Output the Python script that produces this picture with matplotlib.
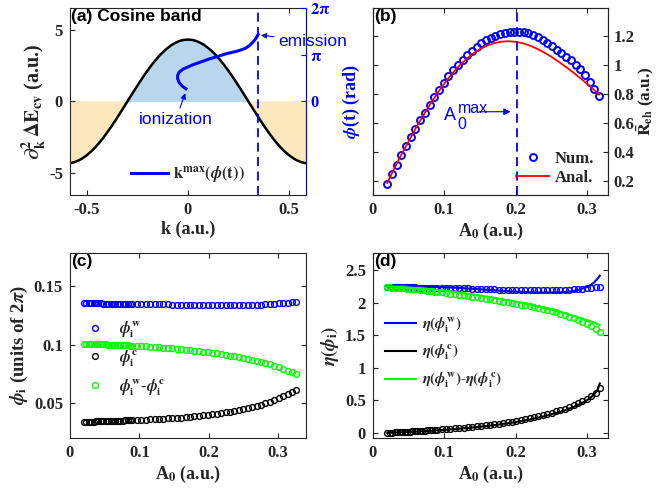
import matplotlib
matplotlib.use('Agg')
import matplotlib.pyplot as plt
import numpy as np

# ---------------- data ----------------
# (a) band curvature vs k
k_band = [-0.60, -0.58, -0.56, -0.54, -0.52, -0.50, -0.48, -0.46, -0.44, -0.42,
          -0.40, -0.38, -0.36, -0.34, -0.32, -0.30, -0.28, -0.26, -0.24, -0.22,
          -0.20, -0.18, -0.16, -0.14, -0.12, -0.10, -0.08, -0.06, -0.04, -0.02,
          0.00, 0.02, 0.04, 0.06, 0.08, 0.10, 0.12, 0.14, 0.16, 0.18,
          0.20, 0.22, 0.24, 0.26, 0.28, 0.30, 0.32, 0.34, 0.36, 0.38,
          0.40, 0.42, 0.44, 0.46, 0.48, 0.50, 0.52, 0.54, 0.56, 0.58, 0.60]
band = [-4.30, -4.28, -4.21, -4.09, -3.93, -3.72, -3.48, -3.20, -2.88, -2.53,
        -2.15, -1.75, -1.33, -0.89, -0.45, 0.00, 0.45, 0.89, 1.33, 1.75,
        2.15, 2.53, 2.88, 3.20, 3.48, 3.72, 3.93, 4.09, 4.21, 4.28,
        4.30, 4.28, 4.21, 4.09, 3.93, 3.72, 3.48, 3.20, 2.88, 2.53,
        2.15, 1.75, 1.33, 0.89, 0.45, 0.00, -0.45, -0.89, -1.33, -1.75,
        -2.15, -2.53, -2.88, -3.20, -3.48, -3.72, -3.93, -4.09, -4.21, -4.28, -4.30]
# (a) k^max(phi(t)) trajectory (x: k, y: phase in rad)
kmax_k = [-0.010, -0.028, -0.043, -0.051, -0.051, -0.043, -0.023, 0.026, 0.076, 0.109,
          0.150, 0.191, 0.233, 0.257, 0.285, 0.307, 0.323, 0.337, 0.348]
kmax_phi = [0.85, 1.03, 1.26, 1.53, 1.75, 1.97, 2.18, 2.47, 2.71, 2.87,
            3.03, 3.21, 3.34, 3.43, 3.57, 3.77, 3.99, 4.22, 4.49]
k_emit = 0.35
a_xticks = [-0.5, 0, 0.5]
a_xticklabels = ['-0.5', '0', '0.5']
a_yticks = [-5, 0, 5]
a_yticklabels = ['-5', '0', '5']
a_rticks = [0, np.pi, 2 * np.pi]
a_rticklabels = ['0', r'$\mathbf{\pi}$', r'$\mathbf{2\pi}$']

# (b) Num. / Anal.
A0_b = [0.0200, 0.0266, 0.0332, 0.0398, 0.0464, 0.0530, 0.0596, 0.0662, 0.0728, 0.0794,
        0.0860, 0.0926, 0.0992, 0.1058, 0.1124, 0.1190, 0.1256, 0.1322, 0.1388, 0.1454,
        0.1520, 0.1586, 0.1652, 0.1718, 0.1784, 0.1850, 0.1916, 0.1982, 0.2048, 0.2114,
        0.2180, 0.2246, 0.2312, 0.2378, 0.2444, 0.2510, 0.2576, 0.2642, 0.2708, 0.2774,
        0.2840, 0.2906, 0.2972, 0.3038, 0.3104, 0.3170]
num_b = [0.180, 0.250, 0.316, 0.383, 0.444, 0.504, 0.561, 0.620, 0.672, 0.726,
         0.776, 0.827, 0.874, 0.920, 0.962, 1.000, 1.034, 1.066, 1.096, 1.122,
         1.146, 1.166, 1.183, 1.197, 1.208, 1.216, 1.222, 1.225, 1.225, 1.221,
         1.214, 1.203, 1.189, 1.170, 1.149, 1.127, 1.104, 1.080, 1.055, 1.029,
         1.001, 0.968, 0.928, 0.882, 0.833, 0.787]
A0_b_line = [0.02, 0.03, 0.04, 0.05, 0.06, 0.07, 0.08, 0.09, 0.10, 0.11,
             0.12, 0.13, 0.14, 0.15, 0.16, 0.17, 0.18, 0.19, 0.20, 0.21,
             0.22, 0.23, 0.24, 0.25, 0.26, 0.27, 0.28, 0.29, 0.30, 0.31, 0.317]
anal_b = [0.190, 0.290, 0.385, 0.475, 0.565, 0.648, 0.728, 0.802, 0.871, 0.933,
          0.988, 1.035, 1.075, 1.107, 1.131, 1.148, 1.158, 1.161, 1.157, 1.147,
          1.131, 1.110, 1.084, 1.055, 1.022, 0.987, 0.950, 0.911, 0.871, 0.828, 0.795]
A0_max = 0.202
b_yticks = [0.2, 0.4, 0.6, 0.8, 1.0, 1.2]
b_yticklabels = ['0.2', '0.4', '0.6', '0.8', '1', '1.2']
x_ticks = [0, 0.1, 0.2, 0.3]
x_ticklabels = ['0', '0.1', '0.2', '0.3']

# (c) phases (units of 2pi)
A0_c = [0.0200, 0.0235, 0.0270, 0.0305, 0.0340, 0.0375, 0.0410, 0.0445, 0.0480, 0.0515,
        0.0550, 0.0585, 0.0620, 0.0655, 0.0690, 0.0725, 0.0760, 0.0795, 0.0830, 0.0865,
        0.0900, 0.0964, 0.1028, 0.1092, 0.1156, 0.1220, 0.1283, 0.1347, 0.1411, 0.1475,
        0.1539, 0.1603, 0.1667, 0.1731, 0.1795, 0.1859, 0.1922, 0.1986, 0.2050, 0.2114,
        0.2178, 0.2242, 0.2306, 0.2370, 0.2434, 0.2498, 0.2561, 0.2625, 0.2689, 0.2753,
        0.2817, 0.2881, 0.2945, 0.3009, 0.3073, 0.3137, 0.3200, 0.3264]
phi_w = [0.1350, 0.1350, 0.1350, 0.1350, 0.1350, 0.1350, 0.1350, 0.1350, 0.1349, 0.1349,
         0.1349, 0.1349, 0.1349, 0.1349, 0.1349, 0.1348, 0.1348, 0.1348, 0.1348, 0.1347,
         0.1347, 0.1346, 0.1346, 0.1345, 0.1344, 0.1344, 0.1343, 0.1342, 0.1342, 0.1341,
         0.1340, 0.1340, 0.1339, 0.1338, 0.1338, 0.1337, 0.1337, 0.1336, 0.1336, 0.1336,
         0.1335, 0.1335, 0.1335, 0.1335, 0.1336, 0.1336, 0.1337, 0.1338, 0.1339, 0.1341,
         0.1343, 0.1345, 0.1348, 0.1351, 0.1354, 0.1357, 0.1360, 0.1364]
phi_c = [0.0343, 0.0343, 0.0344, 0.0344, 0.0345, 0.0346, 0.0346, 0.0347, 0.0348, 0.0348,
         0.0349, 0.0350, 0.0350, 0.0351, 0.0352, 0.0352, 0.0353, 0.0354, 0.0354, 0.0355,
         0.0356, 0.0358, 0.0360, 0.0361, 0.0363, 0.0365, 0.0367, 0.0369, 0.0371, 0.0373,
         0.0376, 0.0379, 0.0382, 0.0385, 0.0389, 0.0393, 0.0397, 0.0401, 0.0406, 0.0411,
         0.0416, 0.0422, 0.0428, 0.0435, 0.0442, 0.0450, 0.0458, 0.0467, 0.0477, 0.0488,
         0.0500, 0.0513, 0.0527, 0.0543, 0.0560, 0.0578, 0.0596, 0.0614]
phi_wc = [0.1007, 0.1007, 0.1006, 0.1006, 0.1005, 0.1004, 0.1004, 0.1003, 0.1001, 0.1001,
          0.1000, 0.0999, 0.0999, 0.0998, 0.0997, 0.0996, 0.0995, 0.0994, 0.0994, 0.0992,
          0.0991, 0.0988, 0.0986, 0.0984, 0.0981, 0.0979, 0.0976, 0.0973, 0.0971, 0.0968,
          0.0964, 0.0961, 0.0957, 0.0953, 0.0949, 0.0944, 0.0940, 0.0935, 0.0930, 0.0925,
          0.0919, 0.0913, 0.0907, 0.0900, 0.0894, 0.0886, 0.0879, 0.0871, 0.0862, 0.0853,
          0.0843, 0.0832, 0.0821, 0.0808, 0.0794, 0.0779, 0.0764, 0.0750]
c_yticks = [0.05, 0.1, 0.15]
c_yticklabels = ['0.05', '0.1', '0.15']

# (d) eta values
A0_d = [0.0200, 0.0235, 0.0270, 0.0305, 0.0340, 0.0375, 0.0410, 0.0445, 0.0480, 0.0515,
        0.0550, 0.0585, 0.0620, 0.0655, 0.0690, 0.0725, 0.0760, 0.0795, 0.0830, 0.0865,
        0.0900, 0.0962, 0.1023, 0.1085, 0.1147, 0.1209, 0.1270, 0.1332, 0.1394, 0.1455,
        0.1517, 0.1579, 0.1640, 0.1702, 0.1764, 0.1826, 0.1887, 0.1949, 0.2011, 0.2072,
        0.2134, 0.2196, 0.2257, 0.2319, 0.2381, 0.2443, 0.2504, 0.2566, 0.2628, 0.2689,
        0.2751, 0.2813, 0.2874, 0.2936, 0.2998, 0.3060, 0.3121, 0.3183]
eta_w = [2.240, 2.240, 2.240, 2.239, 2.239, 2.239, 2.239, 2.238, 2.238, 2.238,
         2.238, 2.238, 2.237, 2.237, 2.237, 2.237, 2.237, 2.236, 2.236, 2.236,
         2.236, 2.235, 2.234, 2.233, 2.231, 2.229, 2.227, 2.225, 2.222, 2.219,
         2.216, 2.213, 2.210, 2.208, 2.205, 2.203, 2.201, 2.199, 2.198, 2.197,
         2.196, 2.195, 2.195, 2.195, 2.195, 2.196, 2.197, 2.198, 2.200, 2.203,
         2.207, 2.211, 2.216, 2.222, 2.228, 2.235, 2.242, 2.250]
eta_c = [0.000, 0.002, 0.004, 0.006, 0.008, 0.010, 0.012, 0.014, 0.016, 0.018,
         0.020, 0.022, 0.025, 0.028, 0.031, 0.034, 0.037, 0.040, 0.043, 0.046,
         0.049, 0.052, 0.057, 0.062, 0.067, 0.073, 0.079, 0.085, 0.092, 0.099,
         0.106, 0.114, 0.122, 0.131, 0.140, 0.150, 0.161, 0.172, 0.184, 0.197,
         0.210, 0.224, 0.239, 0.255, 0.272, 0.290, 0.309, 0.329, 0.350, 0.373,
         0.398, 0.425, 0.455, 0.488, 0.524, 0.563, 0.615, 0.690]
eta_wc = [2.240, 2.238, 2.236, 2.234, 2.232, 2.229, 2.227, 2.224, 2.221, 2.218,
          2.215, 2.212, 2.208, 2.204, 2.200, 2.196, 2.191, 2.186, 2.181, 2.176,
          2.170, 2.161, 2.152, 2.143, 2.134, 2.125, 2.116, 2.106, 2.096, 2.086,
          2.076, 2.066, 2.055, 2.044, 2.033, 2.022, 2.011, 1.999, 1.987, 1.975,
          1.962, 1.949, 1.936, 1.922, 1.908, 1.890, 1.872, 1.853, 1.832, 1.810,
          1.787, 1.762, 1.735, 1.706, 1.675, 1.641, 1.603, 1.560]
A0_d_line = [0.02, 0.04, 0.06, 0.08, 0.10, 0.12, 0.14, 0.16, 0.18, 0.20,
             0.22, 0.24, 0.26, 0.27, 0.28, 0.29, 0.30, 0.305, 0.31, 0.315, 0.318]
eta_w_line = [2.255, 2.255, 2.254, 2.250, 2.243, 2.232, 2.218, 2.203, 2.188, 2.175,
              2.165, 2.160, 2.162, 2.168, 2.180, 2.205, 2.245, 2.275, 2.315, 2.375, 2.420]
eta_c_line = [0.000, 0.008, 0.018, 0.030, 0.045, 0.062, 0.082, 0.105, 0.132, 0.165,
              0.205, 0.255, 0.315, 0.350, 0.392, 0.440, 0.500, 0.540, 0.590, 0.660, 0.760]
eta_wc_line = [2.255, 2.245, 2.232, 2.212, 2.188, 2.160, 2.130, 2.097, 2.060, 2.020,
               1.975, 1.925, 1.868, 1.838, 1.805, 1.772, 1.738, 1.720, 1.700, 1.675, 1.660]
d_yticks = [0, 0.5, 1, 1.5, 2, 2.5]
d_yticklabels = ['0', '0.5', '1', '1.5', '2', '2.5']

# ---------------- style ----------------
AXC = '#262626'
plt.rcParams.update({
    'font.family': ['Liberation Serif', 'DejaVu Serif'],
    'font.weight': 'bold',
    'mathtext.fontset': 'stix',
    'axes.linewidth': 0.8,
    'axes.edgecolor': AXC,
    'xtick.color': AXC,
    'ytick.color': AXC,
    'axes.labelcolor': AXC,
    'text.color': AXC,
    'xtick.direction': 'in',
    'ytick.direction': 'in',
    'xtick.labelsize': 12,
    'ytick.labelsize': 12,
    'axes.labelsize': 13,
    'axes.labelweight': 'bold',
})
SANS = ['Liberation Sans', 'DejaVu Sans']
TL = 3.5

fig = plt.figure(figsize=(6.57, 4.96), dpi=100)

def panel_label(ax, s):
    ax.text(0.005, 0.995, s, transform=ax.transAxes, ha='left', va='top',
            fontsize=12.5, fontweight='bold', family=SANS, color='black', zorder=10)

# ---------------- (a) ----------------
axA = fig.add_axes([0.1065, 0.607, 0.359, 0.377])
bpos = [b >= 0 for b in band]
bneg = [b <= 0 for b in band]
axA.fill_between(k_band, band, 0, where=bpos, interpolate=True,
                 color=(0.72, 0.845, 0.93), lw=0)
axA.fill_between(k_band, band, 0, where=bneg, interpolate=True,
                 color=(0.979, 0.908, 0.7375), lw=0)
axA.plot(k_band, band, color='black', lw=1.8)
axA.set_xlim(-0.585, 0.585)
axA.set_ylim(-6.5, 6.5)
axA.set_xticks(a_xticks)
axA.set_xticklabels(a_xticklabels)
axA.set_yticks(a_yticks)
axA.set_yticklabels(a_yticklabels)
axA.tick_params(length=TL, top=True, right=False, pad=5)
axA.set_xlabel('k (a.u.)', labelpad=2)
axA.set_ylabel(r'$\mathbf{\partial^2_k\,\Delta E_{cv}}$ (a.u.)', fontsize=14.5, labelpad=1)

axA2 = axA.twinx()
axA2.set_ylim(-2 * np.pi, 2 * np.pi)
axA2.set_yticks(a_rticks)
axA2.set_yticklabels(a_rticklabels)
axA2.tick_params(axis='y', colors='blue', length=TL, pad=3)
for s in ['left', 'top', 'bottom']:
    axA2.spines[s].set_visible(False)
axA2.spines['right'].set_color('blue')
lk, = axA2.plot(kmax_k, kmax_phi, color='blue', lw=2.2,
                label=r'$\mathbf{k^{max}(}\phi\mathbf{(t))}$')
axA2.axvline(k_emit, color='blue', ls=(0, (5, 3)), lw=1.3)
axA2.annotate('emission', xy=(0.362, 4.45), xytext=(0.448, 4.05),
              family=SANS, fontweight='normal', fontsize=12.5, color='blue',
              ha='left', va='center', annotation_clip=False,
              arrowprops=dict(arrowstyle='-|>', color='blue', lw=0.8,
                              mutation_scale=8, shrinkA=1, shrinkB=0))
axA2.annotate('ionization', xy=(-0.013, 0.55), xytext=(-0.06, -1.22),
              family=SANS, fontweight='normal', fontsize=12.5, color='blue',
              ha='center', va='center',
              arrowprops=dict(arrowstyle='-|>', color='blue', lw=0.8,
                              mutation_scale=8, shrinkA=1, shrinkB=0))
axA2.legend(handles=[lk], loc='center', bbox_to_anchor=(0.5, 0.11), frameon=False,
            fontsize=12, handlelength=2.2, handletextpad=0.3, borderpad=0.2)
panel_label(axA, '(a) Cosine band')

# ---------------- (b) ----------------
axB = fig.add_axes([0.5677, 0.607, 0.3582, 0.377])
hn, = axB.plot(A0_b, num_b, 'o', mfc='none', mec='blue', ms=5.0, mew=1.4, label='Num.')
ha_, = axB.plot(A0_b_line, anal_b, '-', color='red', lw=1.3, label='Anal.')
axB.axvline(A0_max, color='blue', ls=(0, (5, 3)), lw=1.3)
axB.set_xlim(0, 0.33)
axB.set_ylim(0.108, 1.389)
axB.set_xticks(x_ticks)
axB.set_xticklabels(x_ticklabels)
axB.set_yticks(b_yticks)
axB.tick_params(length=TL, top=True, right=False, labelleft=False, pad=5)
axB.set_xlabel(r'A$_\mathbf{0}$ (a.u.)', labelpad=2)
axB.set_ylabel(r'$\phi$(t) (rad)', color='blue', labelpad=8)
axB2 = axB.twinx()
axB2.set_ylim(0.108, 1.389)
axB2.set_yticks(b_yticks)
axB2.set_yticklabels(b_yticklabels)
axB2.tick_params(length=TL, pad=4)
axB2.set_ylabel(r'$\bar{\mathbf{R}}_{\mathbf{eh}}$ (a.u.)', fontsize=12.5, labelpad=0)
axB.annotate('', xy=(0.193, 0.678), xytext=(0.149, 0.678),
             arrowprops=dict(arrowstyle='-|>', color='blue', lw=0.8,
                             mutation_scale=10, shrinkA=0, shrinkB=0))
axB.text(0.0990, 0.62, 'A', family=SANS, fontweight='normal', fontsize=13,
         color='blue', ha='left', va='baseline')
axB.text(0.1190, 0.560, '0', family=SANS, fontweight='normal', fontsize=11.5,
         color='blue', ha='left', va='baseline')
axB.text(0.1195, 0.668, 'max', family=SANS, fontweight='normal', fontsize=11.5,
         color='blue', ha='left', va='baseline')
axB.legend(handles=[hn, ha_], loc='lower right', bbox_to_anchor=(0.995, -0.025),
           frameon=False, fontsize=12, handlelength=2.0, handletextpad=0.3,
           labelspacing=0.2, borderpad=0.3)
panel_label(axB, '(b)')

# ---------------- (c) ----------------
axC = fig.add_axes([0.1065, 0.117, 0.359, 0.373])
h1, = axC.plot(A0_c, phi_w, 'o', mfc='none', mec='blue', ms=4.2, mew=1.0,
               label=r'$\phi_{\mathbf{i}}^{\mathbf{w}}$')
h2, = axC.plot(A0_c, phi_c, 'o', mfc='none', mec='black', ms=4.2, mew=1.0,
               label=r'$\phi_{\mathbf{i}}^{\mathbf{c}}$')
h3, = axC.plot(A0_c, phi_wc, 'o', mfc='none', mec=(0, 1, 0), ms=4.2, mew=1.0,
               label=r'$\phi_{\mathbf{i}}^{\mathbf{w}}$-$\phi_{\mathbf{i}}^{\mathbf{c}}$')
axC.set_xlim(0, 0.34)
axC.set_ylim(0.0205, 0.178)
axC.set_xticks(x_ticks)
axC.set_xticklabels(x_ticklabels)
axC.set_yticks(c_yticks)
axC.set_yticklabels(c_yticklabels)
axC.tick_params(length=TL, top=True, right=True, pad=5)
axC.set_xlabel(r'A$_\mathbf{0}$ (a.u.)', labelpad=2)
axC.set_ylabel(r'$\phi_{\mathbf{i}}$ (units of 2$\pi$)', fontsize=13.5, labelpad=3)
axC.legend(handles=[h1, h2, h3], loc='center left', bbox_to_anchor=(0.0, 0.43),
           frameon=False, fontsize=11.5, handlelength=1.5, handletextpad=0.8,
           labelspacing=0.5, borderpad=0.3)
panel_label(axC, '(c)')

# ---------------- (d) ----------------
axD = fig.add_axes([0.5677, 0.117, 0.3582, 0.373])
axD.plot(A0_d, eta_w, 'o', mfc='none', mec='blue', ms=4.2, mew=1.0)
axD.plot(A0_d, eta_c, 'o', mfc='none', mec='black', ms=4.2, mew=1.0)
axD.plot(A0_d, eta_wc, 'o', mfc='none', mec=(0, 1, 0), ms=4.2, mew=1.0)
l1, = axD.plot(A0_d_line, eta_w_line, '-', color='blue', lw=1.5,
               label=r'$\eta(\phi_{\mathbf{i}}^{\mathbf{w}})$')
l2, = axD.plot(A0_d_line, eta_c_line, '-', color='black', lw=1.5,
               label=r'$\eta(\phi_{\mathbf{i}}^{\mathbf{c}})$')
l3, = axD.plot(A0_d_line, eta_wc_line, '-', color=(0, 1, 0), lw=1.5,
               label=r'$\eta(\phi_{\mathbf{i}}^{\mathbf{w}})$-$\eta(\phi_{\mathbf{i}}^{\mathbf{c}})$')
axD.set_xlim(0, 0.33)
axD.set_ylim(-0.08, 2.77)
axD.set_xticks(x_ticks)
axD.set_xticklabels(x_ticklabels)
axD.set_yticks(d_yticks)
axD.set_yticklabels(d_yticklabels)
axD.tick_params(length=TL, top=True, right=True, pad=5)
axD.set_xlabel(r'A$_\mathbf{0}$ (a.u.)', labelpad=2)
axD.set_ylabel(r'$\eta(\phi_{\mathbf{i}})$', fontsize=13.5, labelpad=3)
axD.legend(handles=[l1, l2, l3], loc='center left', bbox_to_anchor=(0.0, 0.46),
           frameon=False, fontsize=11, handlelength=2.0, handletextpad=0.4,
           labelspacing=0.55, borderpad=0.3)
panel_label(axD, '(d)')

fig.savefig('out.png', dpi=100)
